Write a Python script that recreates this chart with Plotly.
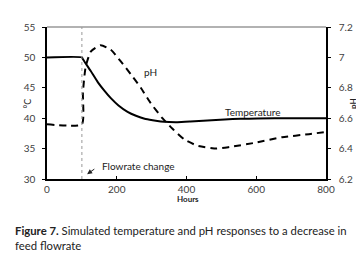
import plotly.graph_objects as go

temp_hours = [0, 100, 103, 125, 146, 165, 183, 205, 231, 255, 280, 303, 326, 350, 374, 411, 460, 509, 555, 603, 700, 800]
temp_vals = [50, 50, 49.7, 47.8, 45.9, 44.5, 43.3, 42.1, 41.05, 40.4, 39.9, 39.65, 39.45, 39.37, 39.35, 39.45, 39.62, 39.8, 39.9, 39.95, 40, 40]

ph_hours = [0, 100, 103, 111, 126, 154, 183, 211, 240, 269, 297, 331, 360, 394, 430, 486, 523, 600, 674, 751, 800]
ph_vals = [6.56, 6.56, 6.77, 6.94, 7.04, 7.08, 7.05, 6.975, 6.89, 6.80, 6.70, 6.60, 6.53, 6.46, 6.42, 6.40, 6.41, 6.44, 6.475, 6.495, 6.51]

x_ticks = [0, 200, 400, 600, 800]
left_ticks = [30, 35, 40, 45, 50, 55]
right_ticks = [6.2, 6.4, 6.6, 6.8, 7.0, 7.2]
right_labels = ["6.2", "6.4", "6.6", "6.8", "7", "7.2"]
flow_change_hour = 100

FONT = "Lato"
TICKC = "#404040"

fig = go.Figure()
fig.add_trace(go.Scatter(x=temp_hours, y=temp_vals, mode="lines", line=dict(color="black", width=2, shape="spline", smoothing=0.5), showlegend=False))
fig.add_trace(go.Scatter(x=ph_hours, y=ph_vals, mode="lines", yaxis="y2", line=dict(color="black", width=2, dash="7px,5px", shape="spline", smoothing=0.5), showlegend=False))

fig.add_shape(type="line", x0=flow_change_hour, x1=flow_change_hour, y0=30, y1=55, xref="x", yref="y", line=dict(color="#999999", width=1, dash="dot"))
fig.add_shape(type="line", x0=0, x1=1, y0=1, y1=1, xref="paper", yref="paper", line=dict(color="#999999", width=1.5))

fig.update_layout(
    width=364, height=253,
    margin=dict(l=39, r=46, t=15, b=82),
    plot_bgcolor="white", paper_bgcolor="white",
    font=dict(family=FONT, size=10, color=TICKC),
    xaxis=dict(range=[0, 800], tickvals=x_ticks, ticks="inside", ticklen=3, tickcolor="black",
               showline=True, linecolor="black", linewidth=1.5, showgrid=False, zeroline=False,
               tickfont=dict(size=10, color=TICKC)),
    yaxis=dict(range=[30, 55], tickvals=left_ticks, ticks="outside", ticklen=3, tickcolor="black",
               showline=True, linecolor="black", linewidth=1.5, showgrid=False, zeroline=False,
               ticklabelstandoff=5, tickfont=dict(size=10, color=TICKC)),
    yaxis2=dict(range=[6.2, 7.2], tickvals=right_ticks, ticktext=right_labels, overlaying="y", side="right",
                ticks="outside", ticklen=3, tickcolor="black", showline=True, linecolor="black", linewidth=1.5,
                showgrid=False, zeroline=False, ticklabelstandoff=6, tickfont=dict(size=10, color=TICKC)),
)

def px2paper(px, py):
    return (px - 39) / 279.0, (171 - py) / 156.0

annos = []
x, y = px2paper(12, 94)
annos.append(dict(text="°C", x=x, y=y, xref="paper", yref="paper", showarrow=False, textangle=-90, font=dict(size=9, color="#222")))
x, y = px2paper(352, 94)
annos.append(dict(text="<b>pH</b>", x=x, y=y, xref="paper", yref="paper", showarrow=False, textangle=-90, font=dict(size=8, color="#222")))
x, y = px2paper(180, 199)
annos.append(dict(text="<b>Hours</b>", x=x, y=y, xref="paper", yref="paper", showarrow=False, font=dict(size=8, color="#222")))
annos.append(dict(text="pH", x=298, y=47.6, xref="x", yref="y", showarrow=False, font=dict(size=10, color="#222")))
annos.append(dict(text="Temperature", x=590, y=41.0, xref="x", yref="y", showarrow=False, font=dict(size=10, color="#222")))
annos.append(dict(text="Flowrate change", x=152, y=32.2, xref="x", yref="y", xanchor="left", showarrow=False, font=dict(size=10, color="#222")))
annos.append(dict(text="", x=115, y=30.8, xref="x", yref="y", ax=140, ay=31.8, axref="x", ayref="y",
                  showarrow=True, arrowhead=2, arrowsize=1, arrowwidth=1, arrowcolor="#222"))
x, y = px2paper(5, 232)
annos.append(dict(text="<b>Figure 7.</b> Simulated temperature and pH responses to a decrease in<br>feed flowrate",
                  x=x, y=y, xref="paper", yref="paper", xanchor="left", yanchor="middle", align="left",
                  showarrow=False, font=dict(size=11.3, color="#222")))
fig.update_layout(annotations=annos)

fig.write_html("out.html")
